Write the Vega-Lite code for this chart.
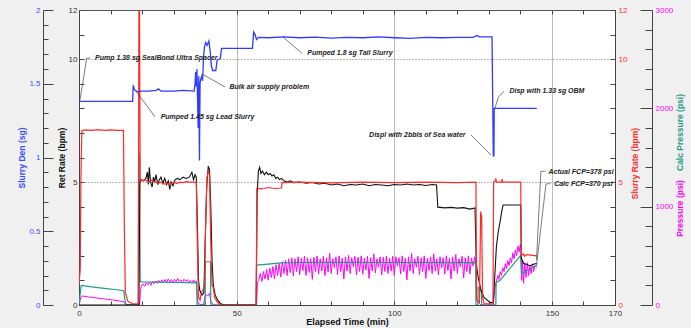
{
  "$schema": "https://vega.github.io/schema/vega-lite/v6.json",
  "width": 536,
  "height": 295,
  "autosize": "none",
  "padding": {"left": 79, "top": 10, "right": 76, "bottom": 23},
  "background": "#f0f0f0",
  "view": {"fill": "white", "stroke": "#555", "strokeWidth": 1},
  "config": {
    "font": "Liberation Sans",
    "axis": {"labelFont": "Liberation Sans", "labelFontSize": 8, "titleFont": "Liberation Sans", "titleFontSize": 9, "titleFontWeight": "bold", "domainColor": "#444", "tickColor": "#444", "labelColor": "#333", "grid": false, "labelFlush": false, "labelOverlap": false}
  },
  "datasets": {
    "press": [
      {"t":0,"p":0},{"t":0.3,"p":40},{"t":0.7,"p":85},{"t":1,"p":92},{"t":3,"p":82},{"t":5,"p":75},{"t":7,"p":66},{"t":9,"p":58},{"t":11,"p":50},{"t":13,"p":40},{"t":14.2,"p":33},{"t":14.6,"p":12},{"t":15.2,"p":2},{"t":19.2,"p":2},{"t":19.5,"p":150},{"t":19.8,"p":200},
      {"t":20.3,"p":215},{"t":20.8,"p":190},{"t":21.3,"p":225},{"t":21.8,"p":205},{"t":22.3,"p":230},{"t":22.8,"p":200},{"t":23.3,"p":240},{"t":23.8,"p":215},{"t":24.3,"p":245},{"t":24.8,"p":220},{"t":25.3,"p":250},{"t":25.8,"p":225},{"t":26.3,"p":255},{"t":26.8,"p":230},{"t":27.3,"p":260},{"t":27.8,"p":228},{"t":28.3,"p":265},{"t":28.8,"p":235},{"t":29.3,"p":258},{"t":29.8,"p":225},{"t":30.3,"p":262},{"t":30.8,"p":238},{"t":31.3,"p":270},{"t":31.8,"p":240},{"t":32.3,"p":255},{"t":32.8,"p":230},{"t":33.3,"p":262},{"t":33.8,"p":240},{"t":34.3,"p":258},{"t":34.8,"p":228},{"t":35.3,"p":250},{"t":35.8,"p":225},{"t":36.3,"p":255},{"t":36.8,"p":230},{"t":37.2,"p":245},{"t":37.5,"p":60},{"t":37.9,"p":15},{"t":38.5,"p":5},{"t":39.5,"p":5},{"t":39.8,"p":60},{"t":40.2,"p":110},{"t":40.8,"p":90},{"t":41.4,"p":120},{"t":41.8,"p":40},{"t":42.4,"p":10},{"t":43,"p":0},{"t":56.3,"p":0},{"t":56.6,"p":230},
      {"t":57.0,"p":250},{"t":57.5,"p":320},{"t":58.0,"p":240},{"t":58.5,"p":340},{"t":59.0,"p":265},{"t":59.5,"p":360},{"t":60.0,"p":255},{"t":60.5,"p":375},{"t":61.0,"p":280},{"t":61.5,"p":390},{"t":62.0,"p":265},{"t":62.5,"p":410},{"t":63.0,"p":300},{"t":63.5,"p":420},{"t":64.0,"p":285},{"t":64.5,"p":440},{"t":65.0,"p":320},{"t":65.5,"p":455},{"t":66.0,"p":300},{"t":66.5,"p":470},{"t":67.0,"p":330},{"t":67.5,"p":480},{"t":68.0,"p":295},{"t":68.5,"p":470},{"t":69.0,"p":340},{"t":69.5,"p":490},{"t":70.0,"p":310},{"t":70.5,"p":475},{"t":71.0,"p":350},{"t":71.5,"p":495},{"t":72.0,"p":300},{"t":72.5,"p":480},{"t":73.0,"p":330},{"t":73.5,"p":470},{"t":74.0,"p":260},{"t":74.5,"p":485},{"t":75.0,"p":340},{"t":75.5,"p":500},{"t":76.0,"p":315},{"t":76.5,"p":470},{"t":77.0,"p":345},{"t":77.5,"p":495},{"t":78.0,"p":300},{"t":78.5,"p":480},{"t":79.0,"p":335},{"t":79.5,"p":525},{"t":80.0,"p":320},{"t":80.5,"p":470},{"t":81.0,"p":380},{"t":81.5,"p":490},{"t":82.0,"p":310},{"t":82.5,"p":500},{"t":83.0,"p":340},{"t":83.5,"p":475},{"t":84.0,"p":265},{"t":84.5,"p":490},{"t":85.0,"p":345},{"t":85.5,"p":505},{"t":86.0,"p":320},{"t":86.5,"p":480},{"t":87.0,"p":390},{"t":87.5,"p":495},{"t":88.0,"p":305},{"t":88.5,"p":485},{"t":89.0,"p":340},{"t":89.5,"p":500},{"t":90.0,"p":315},{"t":90.5,"p":475},{"t":91.0,"p":355},{"t":91.5,"p":495},{"t":92.0,"p":270},{"t":92.5,"p":480},{"t":93.0,"p":345},{"t":93.5,"p":520},{"t":94.0,"p":325},{"t":94.5,"p":470},{"t":95.0,"p":385},{"t":95.5,"p":490},{"t":96.0,"p":305},{"t":96.5,"p":485},{"t":97.0,"p":340},{"t":97.5,"p":500},{"t":98.0,"p":320},{"t":98.5,"p":475},{"t":99.0,"p":345},{"t":99.5,"p":495},{"t":100.0,"p":300},{"t":100.5,"p":490},{"t":101.0,"p":395},{"t":101.5,"p":480},{"t":102.0,"p":315},{"t":102.5,"p":500},{"t":103.0,"p":340},{"t":103.5,"p":475},{"t":104.0,"p":255},{"t":104.5,"p":490},{"t":105.0,"p":345},{"t":105.5,"p":525},{"t":106.0,"p":320},{"t":106.5,"p":470},{"t":107.0,"p":385},{"t":107.5,"p":495},{"t":108.0,"p":310},{"t":108.5,"p":480},{"t":109.0,"p":340},{"t":109.5,"p":500},{"t":110.0,"p":270},{"t":110.5,"p":475},{"t":111.0,"p":350},{"t":111.5,"p":490},{"t":112.0,"p":320},{"t":112.5,"p":520},{"t":113.0,"p":345},{"t":113.5,"p":470},{"t":114.0,"p":305},{"t":114.5,"p":490},{"t":115.0,"p":380},{"t":115.5,"p":480},{"t":116.0,"p":315},{"t":116.5,"p":500},{"t":117.0,"p":350},{"t":117.5,"p":475},{"t":118.0,"p":265},{"t":118.5,"p":490},{"t":119.0,"p":345},{"t":119.5,"p":515},{"t":120.0,"p":320},{"t":120.5,"p":470},{"t":121.0,"p":390},{"t":121.5,"p":495},{"t":122.0,"p":275},{"t":122.5,"p":480},{"t":123.0,"p":340},{"t":123.5,"p":500},{"t":124.0,"p":315},{"t":124.5,"p":480},{"t":125.0,"p":395},{"t":125.5,"p":490},{"t":125.9,"p":380},{"t":126.1,"p":60},{"t":126.8,"p":20},{"t":127.5,"p":0},{"t":131.4,"p":0},
      {"t":131.8,"p":150},{"t":132.3,"p":230},{"t":132.8,"p":300},{"t":133.2,"p":260},{"t":133.6,"p":340},{"t":134.0,"p":300},{"t":134.4,"p":380},{"t":134.8,"p":340},{"t":135.2,"p":420},{"t":135.6,"p":370},{"t":136.0,"p":450},{"t":136.4,"p":400},{"t":136.8,"p":480},{"t":137.2,"p":430},{"t":137.6,"p":530},{"t":138.0,"p":470},{"t":138.4,"p":560},{"t":138.8,"p":500},{"t":139.2,"p":600},{"t":139.6,"p":540},{"t":140.0,"p":620},{"t":140.2,"p":560},{"t":140.4,"p":250},{"t":140.7,"p":450},{"t":141.0,"p":220},{"t":141.4,"p":420},{"t":141.8,"p":280},{"t":142.2,"p":430},{"t":142.6,"p":300},{"t":143.0,"p":400},{"t":143.4,"p":320},{"t":143.8,"p":420},{"t":144.2,"p":340},{"t":144.6,"p":400},{"t":145.2,"p":380}
    ],
    "calc": [
      {"t":0,"cp":0},{"t":0.4,"cp":120},{"t":0.7,"cp":200},{"t":4,"cp":185},{"t":8,"cp":170},{"t":12,"cp":155},{"t":14.2,"cp":145},{"t":14.5,"cp":60},{"t":14.9,"cp":5},{"t":18.8,"cp":5},{"t":18.9,"cp":1540},{"t":19.2,"cp":1540},{"t":19.4,"cp":240},{"t":20,"cp":236},{"t":25,"cp":233},{"t":30,"cp":229},{"t":37.3,"cp":226},{"t":37.5,"cp":0},{"t":40.0,"cp":0},{"t":40.1,"cp":440},{"t":41.7,"cp":440},{"t":41.8,"cp":0},{"t":56.2,"cp":0},{"t":56.3,"cp":405},{"t":60,"cp":415},{"t":64,"cp":428},{"t":70,"cp":432},{"t":80,"cp":433},{"t":100,"cp":432},{"t":125.8,"cp":430},{"t":125.9,"cp":0},{"t":126.5,"cp":0},{"t":126.6,"cp":180},{"t":127.6,"cp":140},{"t":127.7,"cp":0},{"t":132.2,"cp":0},{"t":132.3,"cp":228},{"t":133.5,"cp":250},{"t":140.1,"cp":505},{"t":140.3,"cp":320},{"t":145.2,"cp":405}
    ],
    "ret": [
      {"t":0,"r":0},{"t":19.0,"r":0},{"t":19.3,"r":5.0},{"t":19.8,"r":5.1},{"t":20.5,"r":5.05},{"t":21.2,"r":5.15},{"t":21.7,"r":5.4},{"t":22.0,"r":4.9},{"t":22.3,"r":5.6},{"t":22.7,"r":5.0},{"t":23.2,"r":4.8},{"t":23.6,"r":5.2},{"t":24,"r":5.0},{"t":24.4,"r":5.3},{"t":25,"r":4.9},{"t":25.5,"r":5.1},{"t":26,"r":5.2},{"t":26.6,"r":4.95},{"t":27.2,"r":5.15},{"t":27.8,"r":4.9},{"t":28.3,"r":5.05},{"t":28.8,"r":4.7},{"t":29.2,"r":5.0},{"t":29.8,"r":4.85},{"t":30.5,"r":5.1},{"t":31.2,"r":5.15},{"t":32,"r":5.1},{"t":33,"r":5.2},{"t":34,"r":5.15},{"t":35,"r":5.2},{"t":35.8,"r":5.4},{"t":36.3,"r":5.1},{"t":36.8,"r":5.3},{"t":37.2,"r":5.2},{"t":37.6,"r":3.0},{"t":37.9,"r":1.0},{"t":38.3,"r":0.6},{"t":39.0,"r":0.4},{"t":39.6,"r":0.5},{"t":40.0,"r":2.5},{"t":40.5,"r":4.8},{"t":41.0,"r":5.65},{"t":41.4,"r":5.5},{"t":41.8,"r":4.0},{"t":42.2,"r":1.8},{"t":42.6,"r":0.8},{"t":43.2,"r":0.4},{"t":44,"r":0.2},{"t":45,"r":0.05},{"t":46,"r":0},{"t":56.2,"r":0},{"t":56.5,"r":4.5},{"t":56.9,"r":5.45},{"t":57.3,"r":5.6},{"t":57.7,"r":5.35},{"t":58.2,"r":5.45},{"t":58.8,"r":5.3},{"t":59.4,"r":5.4},{"t":60,"r":5.3},{"t":60.6,"r":5.35},{"t":61.2,"r":5.25},{"t":61.8,"r":5.3},{"t":62.4,"r":5.15},{"t":63,"r":5.2},{"t":63.6,"r":5.1},{"t":64.2,"r":5.15},{"t":65,"r":5.05},{"t":66,"r":5.0},{"t":67,"r":5.05},{"t":68,"r":4.98},{"t":70,"r":5.0},{"t":72,"r":4.95},{"t":74,"r":4.98},{"t":76,"r":4.92},{"t":78,"r":4.95},{"t":80,"r":4.88},{"t":82,"r":4.92},{"t":84,"r":4.85},{"t":86,"r":4.9},{"t":88,"r":4.88},{"t":90,"r":4.92},{"t":92,"r":4.85},{"t":94,"r":4.9},{"t":96,"r":4.88},{"t":98,"r":4.85},{"t":100,"r":4.9},{"t":102,"r":4.88},{"t":104,"r":4.92},{"t":106,"r":4.88},{"t":108,"r":4.9},{"t":110,"r":4.86},{"t":112,"r":4.9},{"t":113.4,"r":4.88},{"t":113.8,"r":3.98},{"t":116,"r":3.95},{"t":118,"r":3.97},{"t":120,"r":3.94},{"t":122,"r":3.96},{"t":124,"r":3.9},{"t":125.6,"r":3.95},{"t":126.0,"r":1.7},{"t":126.5,"r":1.2},{"t":127.5,"r":0.6},{"t":128.5,"r":0.3},{"t":130.4,"r":0.1},{"t":131.4,"r":0.1},{"t":132.4,"r":2.4},{"t":133.0,"r":3.0},{"t":133.5,"r":3.35},{"t":134.0,"r":3.75},{"t":134.5,"r":4.07},{"t":140.1,"r":4.07},{"t":140.3,"r":1.9},{"t":141,"r":1.7},{"t":142,"r":1.65},{"t":143,"r":1.6},{"t":144,"r":1.65},{"t":145.2,"r":1.7}
    ],
    "rate": [
      {"t":0,"s":0.8},{"t":0.4,"s":1.5},{"t":0.6,"s":5},{"t":0.9,"s":7.1},{"t":2,"s":7.12},{"t":4,"s":7.1},{"t":6,"s":7.13},{"t":8,"s":7.1},{"t":10,"s":7.12},{"t":12,"s":7.1},{"t":14.1,"s":7.1},{"t":14.4,"s":3},{"t":14.7,"s":0.5},{"t":15.5,"s":0.15},{"t":17,"s":0.05},{"t":18.8,"s":0.05},{"t":19.0,"s":12},{"t":19.2,"s":12},{"t":19.4,"s":5.1},{"t":20,"s":5.05},{"t":21,"s":5.1},{"t":22,"s":5.0},{"t":23,"s":5.08},{"t":24,"s":5.0},{"t":25,"s":4.95},{"t":26,"s":5.0},{"t":27,"s":4.92},{"t":28,"s":4.95},{"t":29,"s":4.9},{"t":30,"s":5.0},{"t":31,"s":4.95},{"t":32,"s":5.0},{"t":33,"s":4.98},{"t":34,"s":5.02},{"t":35,"s":5.0},{"t":36,"s":5.0},{"t":37.2,"s":4.98},{"t":37.6,"s":2},{"t":37.9,"s":0.3},{"t":38.4,"s":0.2},{"t":38.8,"s":0.5},{"t":39.3,"s":0.6},{"t":39.8,"s":0.8},{"t":40.2,"s":3.5},{"t":40.6,"s":5.2},{"t":41.0,"s":5.42},{"t":41.4,"s":5.3},{"t":41.8,"s":2.5},{"t":42.2,"s":0.8},{"t":42.6,"s":0.7},{"t":43,"s":0.3},{"t":44,"s":0.1},{"t":45,"s":0},{"t":56.2,"s":0},{"t":56.4,"s":4.75},{"t":58,"s":4.72},{"t":60,"s":4.78},{"t":62,"s":4.74},{"t":64.2,"s":4.76},{"t":64.4,"s":4.98},{"t":70,"s":5.0},{"t":80,"s":4.97},{"t":90,"s":5.0},{"t":100,"s":4.98},{"t":110,"s":5.0},{"t":120,"s":4.98},{"t":125.9,"s":5.0},{"t":126.1,"s":0.2},{"t":127.0,"s":0.1},{"t":127.4,"s":3.8},{"t":127.7,"s":3.6},{"t":128.0,"s":0.3},{"t":128.5,"s":0.05},{"t":131.3,"s":0.05},{"t":131.5,"s":5.0},{"t":132,"s":5.05},{"t":132.2,"s":5.15},{"t":132.4,"s":5.0},{"t":134,"s":5.0},{"t":134.2,"s":5.12},{"t":134.4,"s":5.0},{"t":140.1,"s":5.0},{"t":140.3,"s":2.0},{"t":141,"s":2.08},{"t":141.3,"s":1.98},{"t":142,"s":2.05},{"t":145.2,"s":2.0}
    ],
    "den": [
      {"t":0,"d":1.38},{"t":17.0,"d":1.38},{"t":17.2,"d":1.49},{"t":17.6,"d":1.46},{"t":18.5,"d":1.445},{"t":20,"d":1.45},{"t":22,"d":1.45},{"t":24.5,"d":1.455},{"t":25.2,"d":1.465},{"t":26,"d":1.45},{"t":30,"d":1.45},{"t":33,"d":1.455},{"t":36.5,"d":1.45},{"t":36.8,"d":1.5},{"t":37.0,"d":1.58},{"t":37.2,"d":1.48},{"t":37.4,"d":1.6},{"t":37.6,"d":1.4},{"t":37.8,"d":1.2},{"t":38.0,"d":1.55},{"t":38.2,"d":0.98},{"t":38.4,"d":1.5},{"t":38.6,"d":1.53},{"t":38.9,"d":1.55},{"t":39.2,"d":1.52},{"t":39.5,"d":1.68},{"t":39.8,"d":1.75},{"t":40.2,"d":1.78},{"t":40.6,"d":1.76},{"t":41.2,"d":1.79},{"t":41.6,"d":1.72},{"t":42.0,"d":1.62},{"t":42.4,"d":1.59},{"t":43.4,"d":1.59},{"t":43.8,"d":1.66},{"t":44.8,"d":1.67},{"t":45.2,"d":1.74},{"t":55.0,"d":1.74},{"t":55.4,"d":1.85},{"t":55.9,"d":1.83},{"t":56.3,"d":1.8},{"t":57,"d":1.815},{"t":60,"d":1.812},{"t":65,"d":1.818},{"t":70,"d":1.812},{"t":75,"d":1.816},{"t":80,"d":1.81},{"t":85,"d":1.815},{"t":90,"d":1.812},{"t":95,"d":1.818},{"t":100,"d":1.812},{"t":105,"d":1.808},{"t":110,"d":1.815},{"t":115,"d":1.812},{"t":120,"d":1.815},{"t":125,"d":1.815},{"t":126.3,"d":1.828},{"t":127,"d":1.818},{"t":131.0,"d":1.818},{"t":131.4,"d":1.012},{"t":131.6,"d":1.012},{"t":131.7,"d":1.333},{"t":145.2,"d":1.333}
    ],
    "leaders": [
      {"id":1,"k":1,"t":0.32,"v":8.34},{"id":1,"k":2,"t":2.44,"v":10.04},{"id":1,"k":3,"t":3.49,"v":10.04},
      {"id":2,"k":1,"t":17.76,"v":8.75},{"id":2,"k":2,"t":24.1,"v":7.66},
      {"id":3,"k":1,"t":39.0,"v":9.4},{"id":3,"k":2,"t":46.3,"v":8.87},
      {"id":4,"k":1,"t":64.7,"v":10.9},{"id":4,"k":2,"t":70.7,"v":10.24},
      {"id":5,"k":1,"t":131.9,"v":8.0},{"id":5,"k":2,"t":133.0,"v":8.46},{"id":5,"k":3,"t":134.8,"v":8.69},
      {"id":6,"k":1,"t":124.3,"v":6.92},{"id":6,"k":2,"t":130.7,"v":6.1},
      {"id":7,"k":1,"t":145.1,"v":1.83},{"id":7,"k":2,"t":146.5,"v":5.43},{"id":7,"k":3,"t":148.0,"v":5.45},
      {"id":8,"k":1,"t":145.1,"v":1.59},{"id":8,"k":2,"t":148.1,"v":4.92},{"id":8,"k":3,"t":149.5,"v":4.94}
    ],
    "notesLeft": [
      {"t":5.07,"v":10.04,"label":"Pump 1.38 sg SealBond Ultra Spacer"},
      {"t":25.9,"v":7.66,"label":"Pumped 1.45 sg Lead Slurry"},
      {"t":47.7,"v":8.85,"label":"Bulk air supply problem"},
      {"t":72.4,"v":10.24,"label":"Pumped 1.8 sg Tail Slurry"},
      {"t":136.5,"v":8.69,"label":"Disp with 1.33 sg OBM"},
      {"t":148.9,"v":5.43,"label":"Actual FCP=378 psi"},
      {"t":150.7,"v":4.92,"label":"Calc FCP=370 psi"}
    ],
    "notesRight": [
      {"t":122.6,"v":6.92,"label":"Displ with 2bbls of Sea water"}
    ]
  },
  "layer": [
    {
      "data": {"name": "press"},
      "mark": {"type": "line", "color": "#ff00ff", "strokeWidth": 1, "clip": true},
      "encoding": {
        "x": {"field": "t", "type": "quantitative", "scale": {"domain": [0, 170], "nice": false},
          "axis": {"orient": "bottom", "values": [0,10,20,30,40,50,60,70,80,90,100,110,120,130,140,150,160,170], "labelExpr": "datum.value % 50 == 0 || datum.value == 170 ? datum.label : ''", "tickSize": -4, "labelPadding": 8, "title": "Elapsed Time (min)", "titleColor": "#111", "titlePadding": 0,
            "grid": true, "gridColor": "#bbb", "gridOpacity": {"condition": {"test": "datum.value == 50 || datum.value == 100 || datum.value == 150", "value": 1}, "value": 0}}},
        "y": {"field": "p", "type": "quantitative", "scale": {"domain": [0, 3000], "nice": false},
          "axis": {"orient": "right", "offset": 37, "values": [0,200,400,600,800,1000,1200,1400,1600,1800,2000,2200,2400,2600,2800,3000], "labelExpr": "datum.value % 1000 == 0 ? datum.label : ''", "format": "d",
            "tickSize": {"condition": {"test": "datum.value % 1000 == 0", "value": -12}, "value": -7}, "labelPadding": 15, "labelColor": "#ff00ff",
            "title": "Pressure (psi)", "titleColor": "#ff00ff", "titleFontSize": 8.5, "titleAngle": 270, "titleX": 27, "titleY": 198, "titleAlign": "center", "titleBaseline": "middle"}}
      }
    },
    {
      "data": {"name": "calc"},
      "mark": {"type": "line", "color": "#1f9b88", "strokeWidth": 1.2, "clip": true},
      "encoding": {
        "x": {"field": "t", "type": "quantitative", "scale": {"domain": [0, 170], "nice": false},
          "axis": {"orient": "top", "values": [0,10,20,30,40,50,60,70,80,90,100,110,120,130,140,150,160,170], "labels": false, "tickSize": -4, "title": null, "domain": false}},
        "y": {"field": "cp", "type": "quantitative", "scale": {"domain": [0, 3000], "nice": false},
          "axis": {"orient": "right", "offset": 37, "ticks": false, "labels": false, "domain": false,
            "title": "Calc Pressure (psi)", "titleColor": "#1f9b88", "titleFontSize": 8.5, "titleAngle": 270, "titleX": 27, "titleY": 122, "titleAlign": "center", "titleBaseline": "middle"}}
      }
    },
    {
      "data": {"name": "ret"},
      "mark": {"type": "line", "color": "#111111", "strokeWidth": 1.1, "clip": true},
      "encoding": {
        "x": {"field": "t", "type": "quantitative", "scale": {"domain": [0, 170], "nice": false}, "axis": null},
        "y": {"field": "r", "type": "quantitative", "scale": {"domain": [0, 12], "nice": false},
          "axis": {"orient": "left", "offset": 0, "values": [0,1,2,3,4,5,6,7,8,9,10,11,12], "labelExpr": "datum.value % 5 == 0 || datum.value == 12 ? datum.label : ''", "tickSize": -5, "labelPadding": 7,
            "grid": true, "gridColor": "#777", "gridDash": [1, 2], "gridOpacity": {"condition": {"test": "datum.value == 5 || datum.value == 10", "value": 1}, "value": 0},
            "title": "Ret Rate (bpm)", "titleColor": "#111", "titleFontSize": 8.5, "titlePadding": 2}}
      }
    },
    {
      "data": {"name": "rate"},
      "mark": {"type": "line", "color": "#ff2a2a", "strokeWidth": 1.2, "clip": true},
      "encoding": {
        "x": {"field": "t", "type": "quantitative", "scale": {"domain": [0, 170], "nice": false}, "axis": null},
        "y": {"field": "s", "type": "quantitative", "scale": {"domain": [0, 12], "nice": false},
          "axis": {"orient": "right", "offset": 0, "values": [0,1,2,3,4,5,6,7,8,9,10,11,12], "labelExpr": "datum.value % 5 == 0 || datum.value == 12 ? datum.label : ''", "tickSize": -5, "labelPadding": 8, "labelColor": "#ff3030",
            "title": "Slurry Rate (bpm)", "titleColor": "#ff3030", "titleFontSize": 8.5, "titleAngle": 270, "titleX": 19, "titleY": 153, "titleAlign": "center", "titleBaseline": "middle"}}
      }
    },
    {
      "data": {"name": "den"},
      "mark": {"type": "line", "color": "#2e3cff", "strokeWidth": 1.3, "clip": true},
      "encoding": {
        "x": {"field": "t", "type": "quantitative", "scale": {"domain": [0, 170], "nice": false}, "axis": null},
        "y": {"field": "d", "type": "quantitative", "scale": {"domain": [0, 2], "nice": false},
          "axis": {"orient": "left", "offset": 36, "values": [0,0.1,0.2,0.3,0.4,0.5,0.6,0.7,0.8,0.9,1,1.1,1.2,1.3,1.4,1.5,1.6,1.7,1.8,1.9,2], "format": ".1~f",
            "labelExpr": "abs(datum.value*2 - round(datum.value*2)) < 0.001 ? datum.label : ''",
            "tickSize": {"condition": {"test": "abs(datum.value*2 - round(datum.value*2)) < 0.001", "value": -10}, "value": -5}, "labelPadding": 13, "labelColor": "#3b4cff",
            "title": "Slurry Den (sg)", "titleColor": "#3b4cff", "titleFontSize": 8.5, "titlePadding": 2}}
      }
    },
    {
      "data": {"name": "leaders"},
      "mark": {"type": "line", "color": "#444", "strokeWidth": 0.7},
      "encoding": {
        "x": {"field": "t", "type": "quantitative", "scale": {"domain": [0, 170], "nice": false}, "axis": null},
        "y": {"field": "v", "type": "quantitative", "scale": {"domain": [0, 12], "nice": false}, "axis": null},
        "detail": {"field": "id", "type": "nominal"},
        "order": {"field": "k", "type": "quantitative"}
      }
    },
    {
      "data": {"name": "notesLeft"},
      "mark": {"type": "text", "align": "left", "baseline": "middle", "font": "Liberation Sans", "fontSize": 7, "fontStyle": "italic", "fontWeight": "bold", "color": "#222", "clip": true},
      "encoding": {
        "x": {"field": "t", "type": "quantitative", "scale": {"domain": [0, 170], "nice": false}, "axis": null},
        "y": {"field": "v", "type": "quantitative", "scale": {"domain": [0, 12], "nice": false}, "axis": null},
        "text": {"field": "label"}
      }
    },
    {
      "data": {"name": "notesRight"},
      "mark": {"type": "text", "align": "right", "baseline": "middle", "font": "Liberation Sans", "fontSize": 7, "fontStyle": "italic", "fontWeight": "bold", "color": "#222"},
      "encoding": {
        "x": {"field": "t", "type": "quantitative", "scale": {"domain": [0, 170], "nice": false}, "axis": null},
        "y": {"field": "v", "type": "quantitative", "scale": {"domain": [0, 12], "nice": false}, "axis": null},
        "text": {"field": "label"}
      }
    }
  ],
  "resolve": {"scale": {"y": "independent"}, "axis": {"x": "independent", "y": "independent"}}
}
